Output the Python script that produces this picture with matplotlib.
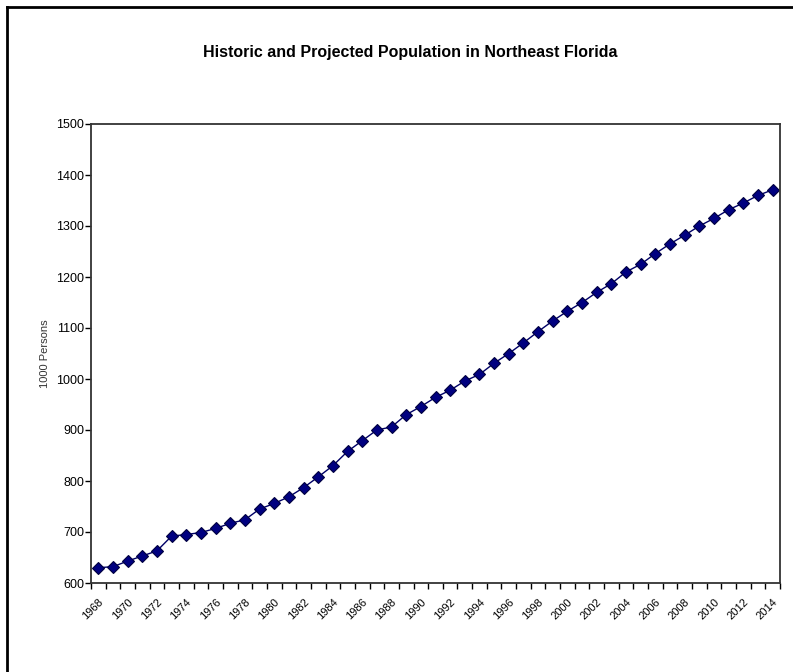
import matplotlib
matplotlib.use("Agg")
import matplotlib.pyplot as plt
from matplotlib.lines import Line2D
from matplotlib.ticker import FixedLocator, NullFormatter

# Population of Northeast Florida, thousands of persons
years = list(range(1968, 2015))
population = [
    630, 632, 643, 653, 663, 692, 695, 699, 707, 717,
    724, 745, 756, 769, 787, 808, 830, 858, 879, 900,
    906, 930, 946, 964, 978, 996, 1009, 1031, 1050, 1071,
    1093, 1114, 1133, 1150, 1170, 1187, 1210, 1225, 1246, 1265,
    1282, 1300, 1315, 1332, 1345, 1360, 1371,
]
y_ticks = [600, 700, 800, 900, 1000, 1100, 1200, 1300, 1400, 1500]
title = "Historic and Projected Population in Northeast Florida"
y_label = "1000 Persons"

narrow = ["Liberation Sans Narrow", "Liberation Sans", "DejaVu Sans"]

fig = plt.figure(figsize=(7.93, 6.72), dpi=100)
fig.patch.set_facecolor("white")

# outer chart frame (left and top edges visible)
fig.add_artist(Line2D([7 / 793, 7 / 793], [0, 1 - 7 / 672], transform=fig.transFigure,
                      color="black", lw=2))
fig.add_artist(Line2D([7 / 793, 1], [1 - 7 / 672, 1 - 7 / 672], transform=fig.transFigure,
                      color="black", lw=2))

ax = fig.add_axes([91 / 793, 1 - 583 / 672, (780 - 91) / 793, (583 - 124) / 672])

n = len(years)
xs = list(range(n))
ax.plot(xs, population, color="#000066", lw=1.0, marker="D", markersize=6,
        markerfacecolor="#000080", markeredgecolor="#000040", markeredgewidth=0.8)

ax.set_xlim(-0.5, n - 0.5)
ax.set_ylim(600, 1500)
ax.set_yticks(y_ticks)
ax.set_yticklabels([str(v) for v in y_ticks], fontsize=9, family=narrow)

label_idx = xs[::2]
ax.xaxis.set_major_locator(FixedLocator(label_idx))
ax.set_xticklabels([str(years[i]) for i in label_idx], rotation=45, ha="right",
                   va="top", rotation_mode="anchor", fontsize=8, family=narrow)
ax.xaxis.set_minor_locator(FixedLocator([i - 0.5 for i in range(n + 1)]))
ax.xaxis.set_minor_formatter(NullFormatter())
ax.tick_params(axis="x", which="major", length=0, pad=10)
ax.tick_params(axis="x", which="minor", length=4, width=1, direction="out", color="black")
ax.tick_params(axis="y", length=4, width=1, direction="out", color="black", pad=1)

for s in ax.spines.values():
    s.set_color("#333333")
    s.set_linewidth(1.3)

ax.set_ylabel(y_label, fontsize=8, family=narrow, color="#333333", labelpad=4)

fig.text(410 / 793, 1 - 52 / 672, title, ha="center", va="center",
         fontsize=11.5, family=narrow, fontweight="bold")

fig.savefig("out.png", dpi=100, facecolor="white")
